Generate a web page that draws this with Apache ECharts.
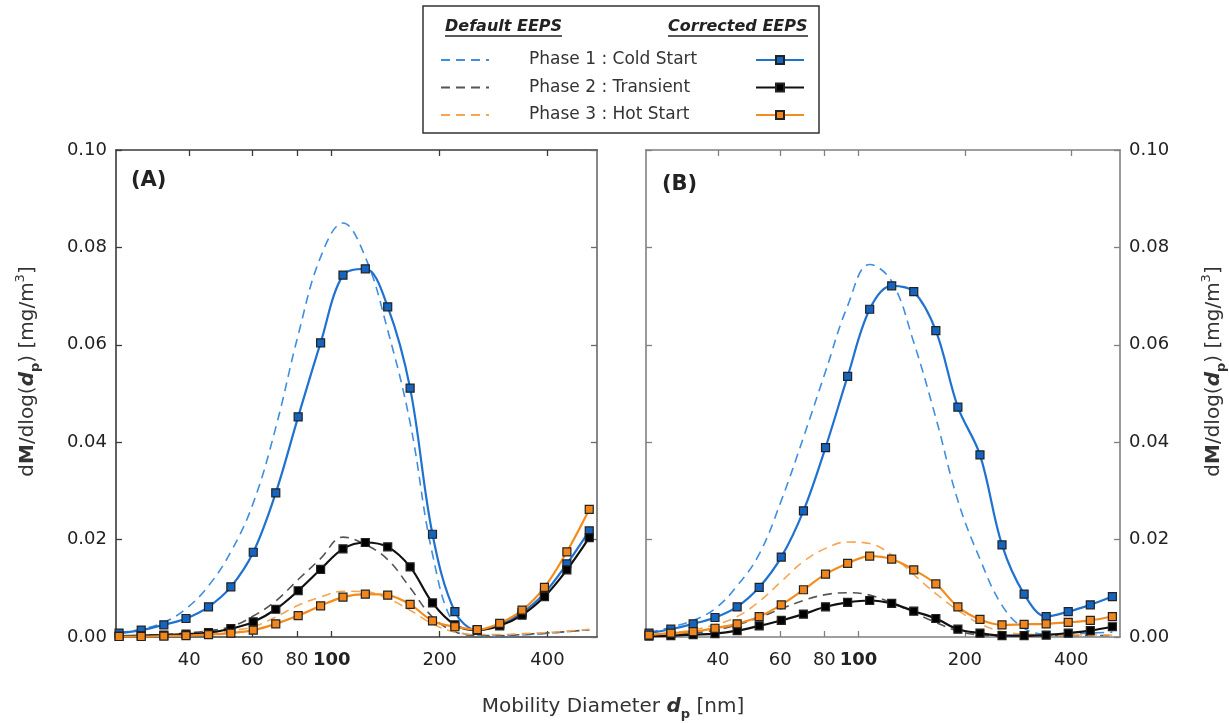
<!DOCTYPE html>
<html>
<head>
<meta charset="utf-8">
<title>EEPS mass size distributions</title>
<script src="https://cdn.jsdelivr.net/npm/echarts@6/dist/echarts.min.js"></script>
<style>
html, body { margin: 0; padding: 0; background: #fff; }
#main { width: 1229px; height: 723px; }
</style>
</head>
<body>
<div id="main"></div>
<script>
// EEPS channel mid-point diameters (nm)
var diameters = [25.5, 29.4, 34.0, 39.2, 45.3, 52.3, 60.4, 69.8, 80.6, 93.1, 107.5, 124.1,
                 143.3, 165.5, 191.1, 220.7, 254.8, 294.3, 339.8, 392.4, 453.2, 523.3];
var xTicks = [40, 60, 80, 100, 200, 400];
var phaseNames = ['Phase 1 : Cold Start', 'Phase 2 : Transient', 'Phase 3 : Hot Start'];

// (A) default EEPS
var aDefCold  = [0.0009, 0.0016, 0.0030, 0.0058, 0.0105, 0.0175, 0.0275, 0.0430, 0.0620, 0.0780, 0.0850, 0.0780,
                 0.0630, 0.0440, 0.0170, 0.0021, 0.0003, 0.0002, 0.0004, 0.0007, 0.0011, 0.0015];
var aDefTrans = [0.0002, 0.0003, 0.0005, 0.0008, 0.0013, 0.0021, 0.0043, 0.0074, 0.0118, 0.0161, 0.0205, 0.0190,
                 0.0159, 0.0101, 0.0041, 0.0011, 0.0003, 0.0003, 0.0005, 0.0008, 0.0011, 0.0015];
var aDefHot   = [0.0001, 0.0002, 0.0003, 0.0005, 0.0008, 0.0013, 0.0021, 0.0041, 0.0065, 0.0082, 0.0094, 0.0093,
                 0.0079, 0.0055, 0.0027, 0.0010, 0.0005, 0.0005, 0.0007, 0.0009, 0.0012, 0.0016];
// (A) corrected EEPS
var aCorCold  = [0.0008, 0.0014, 0.0025, 0.0038, 0.0062, 0.0103, 0.0174, 0.0296, 0.0452, 0.0604, 0.0743, 0.0756,
                 0.0678, 0.0511, 0.0211, 0.0052, 0.0014, 0.0025, 0.0050, 0.0090, 0.0150, 0.0218];
var aCorTrans = [0.0002, 0.0003, 0.0004, 0.0006, 0.0009, 0.0017, 0.0031, 0.0057, 0.0095, 0.0139, 0.0181, 0.0194,
                 0.0185, 0.0144, 0.0070, 0.0025, 0.0014, 0.0023, 0.0045, 0.0083, 0.0138, 0.0204];
var aCorHot   = [0.0001, 0.0001, 0.0002, 0.0003, 0.0005, 0.0008, 0.0014, 0.0027, 0.0044, 0.0064, 0.0082, 0.0088,
                 0.0086, 0.0067, 0.0033, 0.0021, 0.0015, 0.0028, 0.0055, 0.0102, 0.0175, 0.0262];

// (B) default EEPS
var bDefCold  = [0.0009, 0.0020, 0.0034, 0.0058, 0.0105, 0.0170, 0.0280, 0.0410, 0.0545, 0.0680, 0.0765, 0.0730,
                 0.0605, 0.0450, 0.0280, 0.0160, 0.0065, 0.0018, 0.0006, 0.0006, 0.0008, 0.0010];
var bDefTrans = [0.0002, 0.0004, 0.0008, 0.0014, 0.0025, 0.0040, 0.0058, 0.0075, 0.0087, 0.0091, 0.0086, 0.0070,
                 0.0050, 0.0030, 0.0012, 0.0004, 0.0002, 0.0002, 0.0003, 0.0003, 0.0003, 0.0003];
var bDefHot   = [0.0004, 0.0008, 0.0015, 0.0025, 0.0042, 0.0073, 0.0114, 0.0155, 0.0182, 0.0195, 0.0192, 0.0168,
                 0.0128, 0.0089, 0.0055, 0.0027, 0.0011, 0.0006, 0.0004, 0.0004, 0.0004, 0.0004];
// (B) corrected EEPS
var bCorCold  = [0.0008, 0.0016, 0.0027, 0.0040, 0.0062, 0.0102, 0.0164, 0.0259, 0.0389, 0.0535, 0.0673, 0.0721,
                 0.0709, 0.0629, 0.0472, 0.0374, 0.0189, 0.0088, 0.0042, 0.0052, 0.0066, 0.0083];
var bCorTrans = [0.0002, 0.0003, 0.0005, 0.0007, 0.0013, 0.0023, 0.0034, 0.0047, 0.0062, 0.0071, 0.0075, 0.0069,
                 0.0053, 0.0038, 0.0016, 0.0008, 0.0003, 0.0003, 0.0004, 0.0008, 0.0013, 0.0021];
var bCorHot   = [0.0004, 0.0008, 0.0011, 0.0018, 0.0027, 0.0042, 0.0066, 0.0097, 0.0129, 0.0151, 0.0166, 0.0160,
                 0.0138, 0.0109, 0.0062, 0.0036, 0.0025, 0.0026, 0.0027, 0.0030, 0.0034, 0.0042];

var FONT = 'DejaVu Sans';
var BLUE = '#1f72cf', BLACK = '#111111', ORANGE = '#f28c1e';

function pairs(ys) {
    return diameters.map(function (d, i) { return [d, ys[i]]; });
}

function dashedLine(name, ys, color, panel) {
    return {
        name: name, type: 'line', xAxisIndex: panel * 2, yAxisIndex: panel * 2,
        data: pairs(ys), smooth: 0.4, symbol: 'none', z: 2,
        lineStyle: { color: color, width: 1.6, type: [9, 6] },
        itemStyle: { color: color }
    };
}

function markedLine(name, ys, color, fill, panel) {
    return {
        name: name, type: 'line', xAxisIndex: panel * 2, yAxisIndex: panel * 2,
        data: pairs(ys), smooth: 0.35, symbol: 'rect', symbolSize: 8, z: 3,
        lineStyle: { color: color, width: 2.2 },
        itemStyle: { color: fill, borderColor: '#222', borderWidth: 1.2 }
    };
}

function xAxes(gridIndex, color) {
    var base = {
        gridIndex: gridIndex, type: 'log', logBase: 10, min: 25, max: 550,
        axisLine: { onZero: false, lineStyle: { color: color, width: 1.6 } },
        axisTick: { inside: true, length: 6, customValues: xTicks, lineStyle: { color: color, width: 1.3 } },
        splitLine: { show: false }, minorTick: { show: false }
    };
    var bottom = echarts.util.merge({
        position: 'bottom',
        axisLabel: {
            customValues: xTicks, margin: 14, fontSize: 18, color: '#222', fontFamily: FONT,
            formatter: function (v) { return v === 100 ? '{b|100}' : String(v); },
            rich: { b: { fontWeight: 'bold', fontSize: 18, fontFamily: FONT } }
        }
    }, base, true);
    var top = echarts.util.merge({ position: 'top', axisLabel: { show: false } }, base, true);
    return [bottom, top];
}

var yName = '{n|d}{b|M}{n|/dlog(}{bi|d}{sub|p}{n|) [mg/m}{sup|3}{n|]}';
var yRich = {
    n: { fontSize: 20, lineHeight: 28, fontFamily: FONT, color: '#333' },
    b: { fontSize: 20, lineHeight: 28, fontWeight: 'bold', fontFamily: FONT, color: '#333' },
    bi: { fontSize: 20, lineHeight: 28, fontWeight: 'bold', fontStyle: 'italic', fontFamily: FONT, color: '#333' },
    sub: { fontSize: 13, lineHeight: 28, verticalAlign: 'bottom', fontWeight: 'bold', fontFamily: FONT, color: '#333' },
    sup: { fontSize: 13, lineHeight: 28, verticalAlign: 'top', fontFamily: FONT, color: '#333' }
};

function yAxis(gridIndex, position, color, withLabels) {
    var ax = {
        gridIndex: gridIndex, type: 'value', position: position, min: 0, max: 0.1, interval: 0.02,
        axisLine: { show: true, onZero: false, lineStyle: { color: color, width: 1.6 } },
        axisTick: { show: true, inside: true, length: 6, lineStyle: { color: color, width: 1.3 } },
        splitLine: { show: false },
        axisLabel: {
            show: withLabels, margin: 9, fontSize: 18, color: '#222', fontFamily: FONT,
            formatter: function (v) { return v.toFixed(2); }
        }
    };
    if (withLabels) {
        ax.name = yName;
        ax.nameLocation = 'middle';
        ax.nameRotate = 90;
        ax.nameGap = position === 'left' ? 74 : 80;
        ax.nameTextStyle = { rich: yRich, padding: [0, 0, 0, 44] };
    }
    return ax;
}

var xs = xAxes(0, '#3a3a3a').concat(xAxes(1, '#808080'));

var option = {
    animation: false,
    backgroundColor: '#ffffff',
    textStyle: { fontFamily: FONT },
    grid: [
        { left: 116, top: 150, width: 481, height: 487 },
        { left: 646, top: 150, width: 477, height: 487 }
    ],
    xAxis: xs,
    yAxis: [
        yAxis(0, 'left', '#3a3a3a', true),
        yAxis(0, 'right', '#6a6a6a', false),
        yAxis(1, 'left', '#808080', false),
        yAxis(1, 'right', '#808080', true)
    ],
    legend: [
        {
            left: 440, top: 51, padding: 0, orient: 'vertical', itemWidth: 48, itemHeight: 14, itemGap: 9.5,
            selectedMode: false,
            itemStyle: { opacity: 0 },
            data: ['Default P1', 'Default P2', 'Default P3'],
            formatter: function (n) { return phaseNames[Number(n.slice(-1)) - 1]; },
            textStyle: { fontSize: 17, lineHeight: 18, color: '#333', fontFamily: FONT, padding: [0, 0, 0, 35] }
        },
        {
            left: 755, top: 55, padding: 0, orient: 'vertical', itemWidth: 48, itemHeight: 10, itemGap: 17.5,
            selectedMode: false,
            data: ['Corrected P1', 'Corrected P2', 'Corrected P3'],
            formatter: function () { return ''; }
        }
    ],
    graphic: [
        { type: 'rect', shape: { x: 423, y: 6, width: 396, height: 127 },
          style: { fill: 'none', stroke: '#333', lineWidth: 1.5 }, z: 1 },
        { type: 'text', x: 445, y: 27,
          style: { text: 'Default EEPS', font: 'italic bold 16px "DejaVu Sans"', fill: '#222',
                   verticalAlign: 'middle', textVerticalAlign: 'middle' } },
        { type: 'line', shape: { x1: 445, y1: 36, x2: 562, y2: 36 }, style: { stroke: '#222', lineWidth: 1.3 } },
        { type: 'text', x: 668, y: 27,
          style: { text: 'Corrected EEPS', font: 'italic bold 16px "DejaVu Sans"', fill: '#222',
                   verticalAlign: 'middle', textVerticalAlign: 'middle' } },
        { type: 'line', shape: { x1: 668, y1: 36, x2: 808, y2: 36 }, style: { stroke: '#222', lineWidth: 1.3 } },
        { type: 'text', x: 131, y: 181,
          style: { text: '(A)', font: 'bold 21px "DejaVu Sans"', fill: '#222',
                   verticalAlign: 'middle', textVerticalAlign: 'middle' } },
        { type: 'text', x: 662, y: 185,
          style: { text: '(B)', font: 'bold 21px "DejaVu Sans"', fill: '#222',
                   verticalAlign: 'middle', textVerticalAlign: 'middle' } },
        { type: 'text', x: 613, y: 707,
          style: {
              text: '{n|Mobility Diameter }{bi|d}{sub|p}{n| [nm]}',
              align: 'center', textAlign: 'center', verticalAlign: 'middle', textVerticalAlign: 'middle',
              rich: {
                  n: { fontSize: 20, lineHeight: 28, fontFamily: FONT, fill: '#333', color: '#333' },
                  bi: { fontSize: 20, lineHeight: 28, fontWeight: 'bold', fontStyle: 'italic', fontFamily: FONT, fill: '#333', color: '#333' },
                  sub: { fontSize: 13, lineHeight: 28, verticalAlign: 'bottom', fontWeight: 'bold', fontFamily: FONT, fill: '#333', color: '#333' }
              }
          } }
    ],
    series: [
        dashedLine('Default P1', aDefCold, '#3f8ee0', 0),
        dashedLine('Default P2', aDefTrans, '#555555', 0),
        dashedLine('Default P3', aDefHot, '#f7a552', 0),
        markedLine('Corrected P1', aCorCold, BLUE, '#1565c0', 0),
        markedLine('Corrected P2', aCorTrans, BLACK, '#000000', 0),
        markedLine('Corrected P3', aCorHot, ORANGE, '#f0861c', 0),
        dashedLine('Default P1', bDefCold, '#3f8ee0', 1),
        dashedLine('Default P2', bDefTrans, '#555555', 1),
        dashedLine('Default P3', bDefHot, '#f7a552', 1),
        markedLine('Corrected P1', bCorCold, BLUE, '#1565c0', 1),
        markedLine('Corrected P2', bCorTrans, BLACK, '#000000', 1),
        markedLine('Corrected P3', bCorHot, ORANGE, '#f0861c', 1)
    ]
};

var myChart = echarts.init(document.getElementById('main'));
myChart.setOption(option);
</script>
</body>
</html>
